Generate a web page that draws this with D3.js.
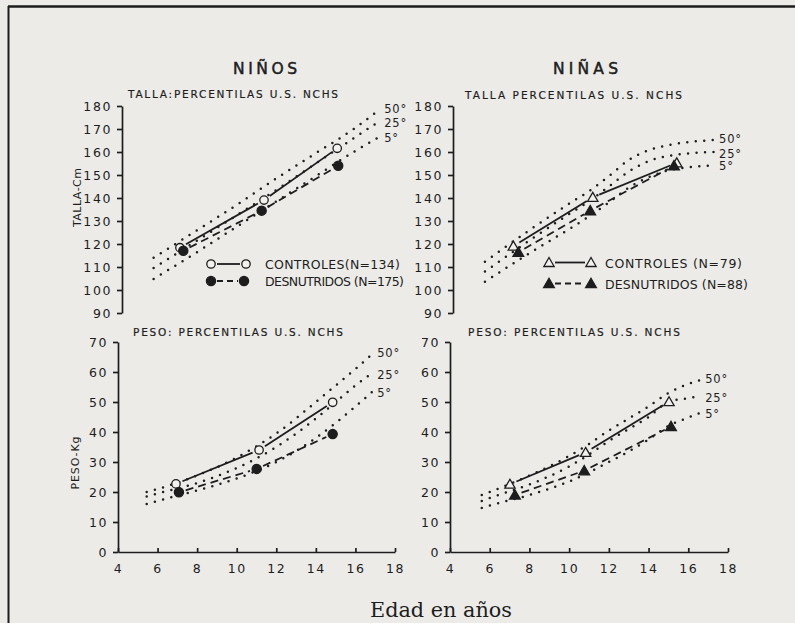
<!DOCTYPE html>
<html><head><meta charset="utf-8">
<script src="https://cdn.jsdelivr.net/npm/d3@7"></script>
<style>
html,body{margin:0;padding:0;background:#ecebe8;}
svg{display:block;}
text{font-family:"DejaVu Sans",sans-serif;fill:#1d1d1d;}
text.serif{font-family:"DejaVu Serif",serif;}
</style></head><body>
<svg id="c" width="795" height="623"></svg>
<script>
// ---------- DATA ----------
const tallaTicks = [90,100,110,120,130,140,150,160,170,180];
const pesoTicks = [0,10,20,30,40,50,60,70];
const ageTicks = [4,6,8,10,12,14,16,18];
const pctNames = ["50°","25°","5°"];

// Niños – talla
const boysTallaCtrlAge = [7.13, 11.38, 15.08];
const boysTallaCtrl    = [118.4, 139.1, 161.6];
const boysTallaDesnAge = [7.30, 11.26, 15.13];
const boysTallaDesn    = [117.1, 134.5, 154.0];
const boysTallaPctAge  = [5.8, 8, 10, 12, 14, 16, 17.2];
const boysTallaP50     = [114.0, 126.0, 137.0, 148.5, 159.5, 170.5, 178.3];
const boysTallaP25     = [109.6, 121.5, 132.5, 143.5, 155.0, 166.5, 173.3];
const boysTallaP5      = [104.8, 116.5, 127.5, 138.5, 149.5, 160.5, 166.5];

// Niñas – talla
const girlsTallaCtrlAge = [7.19, 11.19, 15.42];
const girlsTallaCtrl    = [119.1, 140.3, 155.3];
const girlsTallaDesnAge = [7.44, 11.06, 15.28];
const girlsTallaDesn    = [116.4, 134.5, 154.0];
const girlsTallaPctAge  = [5.76, 8, 10, 11, 12, 13, 14, 15, 16, 17.3];
const girlsTallaP50     = [112.3, 126.0, 137.5, 143.0, 149.5, 156.5, 160.8, 163.0, 164.3, 165.2];
const girlsTallaP25     = [108.0, 121.5, 133.0, 138.5, 145.0, 151.5, 156.0, 158.3, 159.4, 160.0];
const girlsTallaP5      = [103.6, 116.0, 126.5, 132.0, 138.0, 144.5, 149.0, 152.0, 153.3, 154.2];

// Niños – peso
const boysPesoCtrlAge = [6.93, 11.13, 14.85];
const boysPesoCtrl    = [22.7, 34.0, 49.9];
const boysPesoDesnAge = [7.08, 11.01, 14.85];
const boysPesoDesn    = [19.9, 27.7, 39.3];
const boysPesoPctAge  = [5.45, 6, 8, 10, 12, 14, 15, 16, 16.85];
const boysPesoP50     = [20.0, 21.0, 25.5, 31.5, 39.5, 50.0, 55.5, 61.0, 66.0];
const boysPesoP25     = [18.5, 19.5, 23.0, 28.0, 35.0, 44.5, 50.0, 55.5, 59.6];
const boysPesoP5      = [16.0, 17.0, 20.5, 24.5, 30.0, 38.0, 43.0, 48.5, 53.4];

// Niñas – peso
const girlsPesoCtrlAge = [7.02, 10.83, 15.03];
const girlsPesoCtrl    = [22.6, 33.2, 50.1];
const girlsPesoDesnAge = [7.27, 10.76, 15.13];
const girlsPesoDesn    = [19.0, 27.1, 41.8];
const girlsPesoPctAge  = [5.6, 6, 8, 10, 11, 12, 13, 14, 15, 16, 16.6];
const girlsPesoP50     = [19.0, 20.0, 25.5, 32.0, 36.0, 40.5, 44.5, 48.5, 53.0, 56.0, 57.3];
const girlsPesoP25     = [17.0, 18.0, 22.5, 28.5, 32.5, 37.0, 41.0, 45.0, 50.0, 51.3, 52.0];
const girlsPesoP5      = [14.7, 15.5, 19.0, 23.5, 26.5, 30.0, 33.5, 37.5, 42.0, 44.8, 46.4];

// ---------- DRAW ----------
const ink = "#1d1d1d";
const svg = d3.select("#c");

// frame
svg.append("line").attr("x1",8).attr("x2",795).attr("y1",6.5).attr("y2",6.5)
  .attr("stroke",ink).attr("stroke-width",2.6);
svg.append("line").attr("x1",8.5).attr("x2",8.5).attr("y1",6).attr("y2",623)
  .attr("stroke",ink).attr("stroke-width",2);

const xL = d3.scaleLinear().domain([4,18]).range([118,395]);
const xR = d3.scaleLinear().domain([4,18]).range([450,728]);
const yT = d3.scaleLinear().domain([90,180]).range([313,106]);
const yP = d3.scaleLinear().domain([0,70]).range([552,342]);

const zip = (a,b)=>a.map((v,i)=>[v,b[i]]);

const panels = [
  {x:xL, y:yT, axisX:122, ticks:tallaTicks, xAxis:false, sym:"circle",
   ctrl:zip(boysTallaCtrlAge,boysTallaCtrl), desn:zip(boysTallaDesnAge,boysTallaDesn),
   pct:[boysTallaP50,boysTallaP25,boysTallaP5].map(p=>zip(boysTallaPctAge,p))},
  {x:xR, y:yT, axisX:453, ticks:tallaTicks, xAxis:false, sym:"triangle",
   ctrl:zip(girlsTallaCtrlAge,girlsTallaCtrl), desn:zip(girlsTallaDesnAge,girlsTallaDesn),
   pct:[girlsTallaP50,girlsTallaP25,girlsTallaP5].map(p=>zip(girlsTallaPctAge,p))},
  {x:xL, y:yP, axisX:118, ticks:pesoTicks, xAxis:true, sym:"circle",
   ctrl:zip(boysPesoCtrlAge,boysPesoCtrl), desn:zip(boysPesoDesnAge,boysPesoDesn),
   pct:[boysPesoP50,boysPesoP25,boysPesoP5].map(p=>zip(boysPesoPctAge,p))},
  {x:xR, y:yP, axisX:450, ticks:pesoTicks, xAxis:true, sym:"triangle",
   ctrl:zip(girlsPesoCtrlAge,girlsPesoCtrl), desn:zip(girlsPesoDesnAge,girlsPesoDesn),
   pct:[girlsPesoP50,girlsPesoP25,girlsPesoP5].map(p=>zip(girlsPesoPctAge,p))}
];

function styleAxis(g){
  g.selectAll("path,line").attr("stroke",ink).attr("stroke-width",1.7);
  g.selectAll("text").attr("font-size",12.5).attr("letter-spacing",1.6).attr("fill",ink);
}

function marker(g, sym, filled, px, py){
  if(sym==="circle"){
    g.append("circle").attr("cx",px).attr("cy",py).attr("r",filled?4.6:4.2)
      .attr("fill",filled?ink:"#f2f1ee").attr("stroke",ink).attr("stroke-width",1.3);
  } else {
    g.append("path").attr("d",d3.symbol(d3.symbolTriangle, filled?50:46)())
      .attr("transform",`translate(${px},${py+1})`)
      .attr("fill",filled?ink:"#f2f1ee").attr("stroke",ink).attr("stroke-width",1.3);
  }
}

function seg(p,q,g){
  const dx=q[0]-p[0], dy=q[1]-p[1], L=Math.hypot(dx,dy);
  return [p[0]+dx/L*g, p[1]+dy/L*g, q[0]-dx/L*g, q[1]-dy/L*g];
}

const pctLine = d3.line().curve(d3.curveMonotoneX);
const labelShift = [-1, 1.5, 1];

panels.forEach(P=>{
  const g = svg.append("g");
  const ya = g.append("g").attr("transform",`translate(${P.axisX},0)`)
    .call(d3.axisLeft(P.y).tickValues(P.ticks).tickSize(5).tickPadding(5).tickSizeOuter(0));
  styleAxis(ya);
  if(P.xAxis){
    const xa = g.append("g").attr("transform",`translate(0,${P.y(0)})`)
      .call(d3.axisBottom(P.x).tickValues(ageTicks).tickSize(-4).tickPadding(12).tickSizeOuter(0));
    styleAxis(xa);
  }
  P.pct.forEach((pts,i)=>{
    const sp = pts.map(d=>[P.x(d[0]),P.y(d[1])]);
    g.append("path").attr("d",pctLine(sp)).attr("fill","none").attr("stroke",ink)
      .attr("stroke-width",2.5).attr("stroke-linecap","round").attr("stroke-dasharray","0 8.5");
    const last = sp[sp.length-1];
    g.append("text").attr("x",last[0]+5).attr("y",last[1]+4+labelShift[i])
      .attr("font-size",11.5).attr("letter-spacing",0.8).text(pctNames[i]);
  });
  [["ctrl",null],["desn","8 5"]].forEach(([k,dash])=>{
    const sp = P[k].map(d=>[P.x(d[0]),P.y(d[1])]);
    for(let i=0;i<sp.length-1;i++){
      const s = seg(sp[i],sp[i+1],7);
      g.append("line").attr("x1",s[0]).attr("y1",s[1]).attr("x2",s[2]).attr("y2",s[3])
        .attr("stroke",ink).attr("stroke-width",1.8).attr("stroke-dasharray",dash);
    }
    sp.forEach(p=>marker(g,P.sym,k==="desn",p[0],p[1]));
  });
});

function legend(x1,x2,yy,sym,filled,label,tx,tlen){
  const g = svg.append("g");
  g.append("line").attr("x1",x1+6).attr("x2",x2-6).attr("y1",yy).attr("y2",yy)
    .attr("stroke",ink).attr("stroke-width",1.8).attr("stroke-dasharray",filled?"6 4":null);
  marker(g,sym,filled,x1,yy); marker(g,sym,filled,x2,yy);
  g.append("text").attr("x",tx).attr("y",yy+5).attr("font-size",12.5)
    .attr("textLength",tlen).attr("lengthAdjust","spacing").text(label);
}
legend(211,246,264,"circle",false,"CONTROLES(N=134)",265,135);
legend(211,244,281,"circle",true,"DESNUTRIDOS (N=175)",265,139);
legend(549,591,262.5,"triangle",false,"CONTROLES (N=79)",605,137);
legend(549,591,283.5,"triangle",true,"DESNUTRIDOS (N=88)",605,143);

function txt(x,y,s,size,len,bold){
  const t = svg.append("text").attr("x",x).attr("y",y).attr("font-size",size).text(s);
  if(len) t.attr("textLength",len).attr("lengthAdjust","spacing");
  if(bold) t.attr("stroke",ink).attr("stroke-width",bold);
  return t;
}
txt(233,74,"NIÑOS",15.5,64,0.5);
txt(553,74,"NIÑAS",15.5,65,0.5);
txt(128,97.5,"TALLA:PERCENTILAS U.S. NCHS",10.5,210,0.2);
txt(465,98.5,"TALLA  PERCENTILAS U.S. NCHS",10.5,217,0.2);
txt(133,336,"PESO: PERCENTILAS U.S. NCHS",10.5,210,0.2);
txt(468,336,"PESO: PERCENTILAS U.S. NCHS",10.5,212,0.2);

svg.append("text").attr("transform","translate(81,197.5) rotate(-90)")
  .attr("text-anchor","middle").attr("font-size",11).attr("textLength",59)
  .attr("lengthAdjust","spacing").text("TALLA-Cm");
svg.append("text").attr("transform","translate(79,463) rotate(-90)")
  .attr("text-anchor","middle").attr("font-size",11).attr("textLength",53)
  .attr("lengthAdjust","spacing").text("PESO-Kg");

svg.append("text").attr("class","serif").attr("x",370).attr("y",617).attr("font-size",20)
  .attr("textLength",142).attr("lengthAdjust","spacingAndGlyphs").text("Edad en años");
</script>
</body></html>
